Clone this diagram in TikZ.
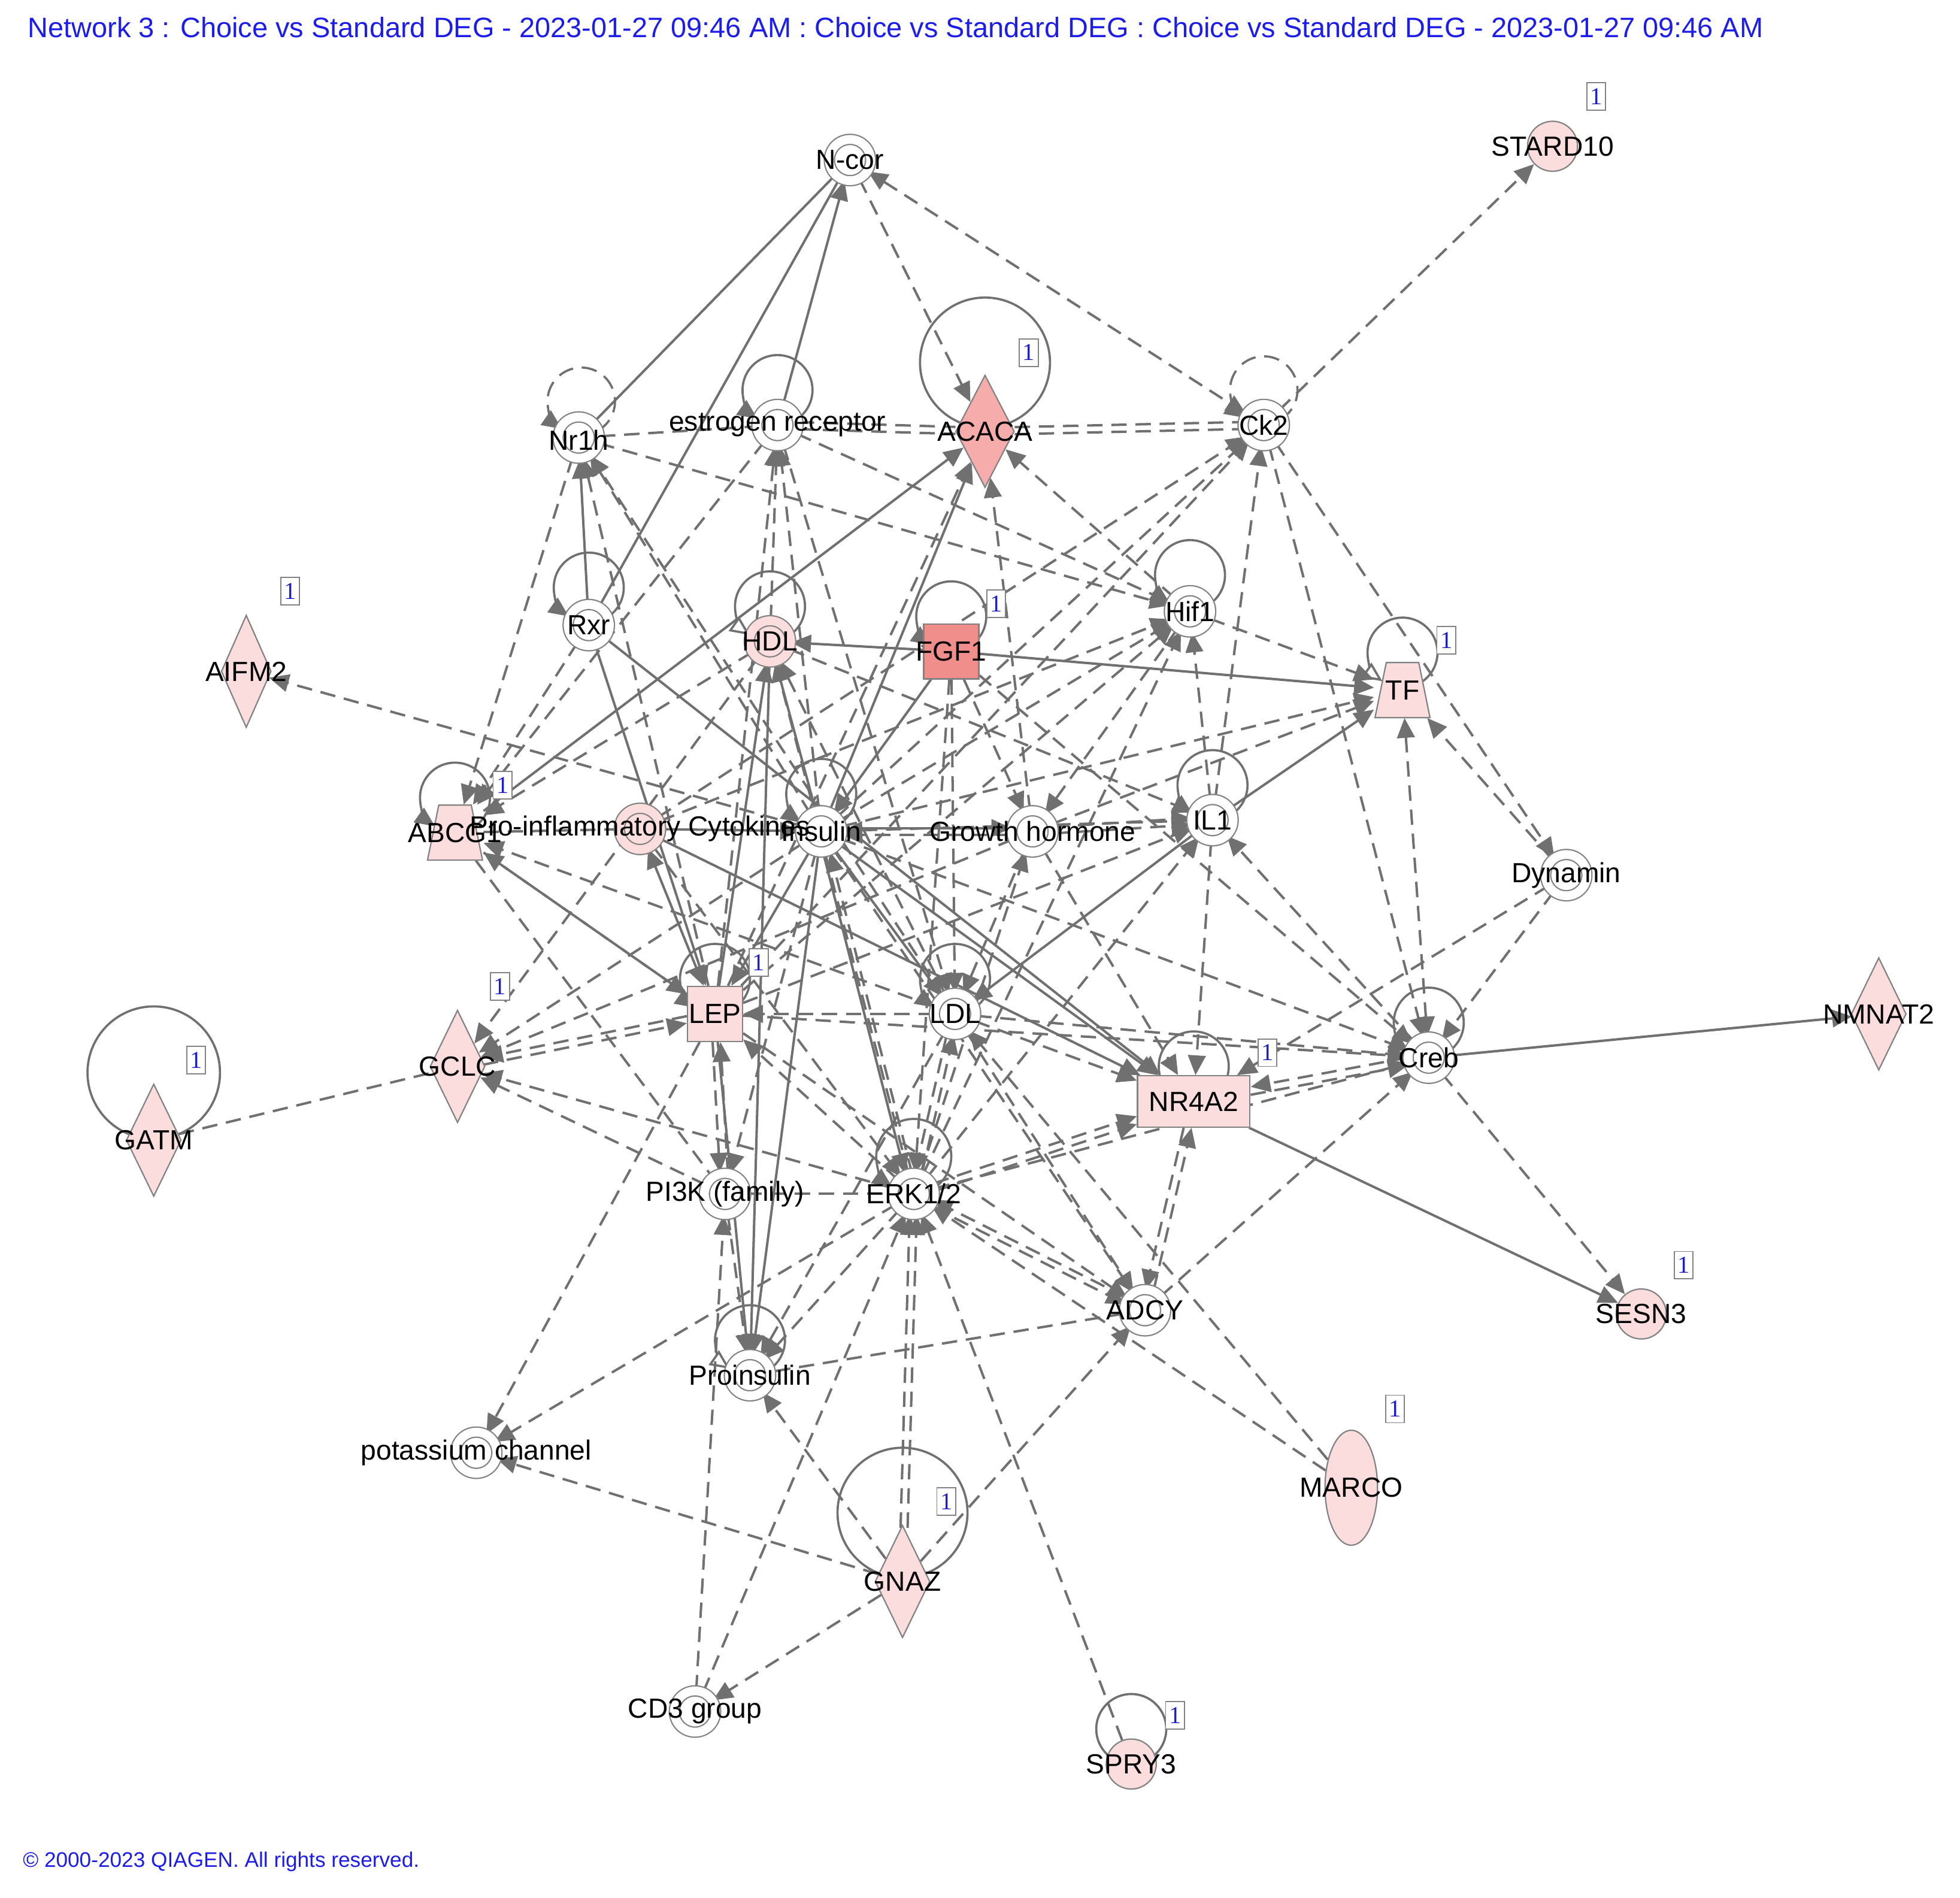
\documentclass[tikz,border=0pt]{standalone}
\usepackage{fontspec}
\setmainfont{Liberation Sans}
\newfontfamily\serifone{Liberation Serif}
\usetikzlibrary{arrows.meta,shapes.geometric,calc}
\definecolor{eg}{RGB}{112,112,112}
\definecolor{ng}{RGB}{130,130,130}
\definecolor{pk}{RGB}{250,221,220}
\definecolor{pkm}{RGB}{246,172,170}
\definecolor{pkd}{RGB}{240,142,140}
\definecolor{ttl}{RGB}{28,28,235}
\pgfdeclarelayer{bg}\pgfdeclarelayer{edges}\pgfsetlayers{bg,edges,main}
\begin{document}
\begin{tikzpicture}[x=0.02cm,y=-0.02cm,font=\fontsize{12.6}{14}\selectfont,
  >={Triangle[length=9pt,width=8pt]},
  base/.style={draw=eg,line width=1.1pt},
  dsh/.style={dash pattern=on 7pt off 4pt},
  ea/.style={base,->},
  eaa/.style={base,<->},
  en/.style={base},
  ed/.style={base,dsh,->},
  edd/.style={base,dsh,<->},
  edn/.style={base,dsh},
  sh/.style={transform canvas={shift={#1}}},
  lp/.style={base,line width=1pt},
  lpo/.style={base,line width=1pt,-{Triangle[open,length=9pt,width=8pt,fill=white]}},
  cn/.style={circle,draw=ng,line width=0.6pt,double=white,double distance=4pt,fill=white,inner sep=0pt,minimum size=0.66cm},
  cnp/.style={circle,draw=ng,line width=0.6pt,double=pk,double distance=4pt,fill=pk,inner sep=0pt,minimum size=0.66cm},
  pc/.style={circle,draw=ng,line width=0.6pt,fill=pk,inner sep=0pt,minimum size=0.8cm},
  dia/.style={diamond,draw=ng,line width=0.6pt,fill=pk,inner sep=0pt,minimum width=0.88cm,minimum height=1.8cm},
  trapbox/.style={rectangle,inner sep=0pt,minimum width=0.9cm,minimum height=0.88cm},
  trapfill/.style={fill=pk,draw=ng,line width=0.6pt},
  sq/.style={rectangle,draw=ng,line width=0.6pt,fill=pk,inner sep=0pt,minimum width=0.88cm,minimum height=0.88cm},
  lbl/.style={inner sep=0pt,text=black},
  badge/.style={draw=ng,line width=0.5pt,fill=white,inner sep=0pt,minimum width=0.3cm,minimum height=0.44cm,font=\serifone\fontsize{11}{12}\selectfont,text={rgb,255:red,30;green,30;blue,200}}]

\begin{pgfonlayer}{bg}
\fill[white] (0,0) rectangle (1568,1518);
\end{pgfonlayer}
\path[use as bounding box] (0,0) rectangle (1568,1518);

% ---------- nodes (shapes) ----------
\node[cn] (ncor) at (680,128) {};
\node[pc] (stard) at (1242,117) {};
\node[cn] (nrh) at (463,350) {};
\node[cn] (er) at (622,340) {};
\node[dia,fill=pkm,minimum width=0.94cm] (acaca) at (788,345) {};
\node[cn] (ck) at (1011,340) {};
\node[cn] (rxr) at (471,500) {};
\node[cnp] (hdl) at (616,513) {};
\node[sq,fill=pkd] (fgf) at (761,521) {};
\node[cn] (hif) at (952,489) {};
\node[trapbox] (tf) at (1122,552) {};
\filldraw[trapfill] ($(tf)+(-22,22)$) -- ($(tf)+(22,22)$) -- ($(tf)+(13,-22)$) -- ($(tf)+(-13,-22)$) -- cycle;
\node[dia,minimum width=0.8cm] (aifm) at (197,537) {};
\node[trapbox] (abcg) at (364,666) {};
\filldraw[trapfill] ($(abcg)+(-22,22)$) -- ($(abcg)+(22,22)$) -- ($(abcg)+(13,-22)$) -- ($(abcg)+(-13,-22)$) -- cycle;
\node[cnp] (proinf) at (512,663) {};
\node[cn] (ins) at (657,665) {};
\node[cn] (gh) at (826,665) {};
\node[cn] (il) at (970,656) {};
\node[cn] (dyn) at (1253,700) {};
\node[sq] (lep) at (572,811) {};
\node[cn] (ldl) at (764,811) {};
\node[dia] (gclc) at (366,853) {};
\node[dia] (gatm) at (123,912) {};
\node[sq,minimum width=1.8cm,minimum height=0.82cm] (nra) at (955,881) {};
\node[cn] (creb) at (1143,846) {};
\node[dia] (nmnat) at (1503,811) {};
\node[cn] (pik) at (580,955) {};
\node[cn] (erk) at (731,955) {};
\node[cn] (adcy) at (916,1048) {};
\node[pc] (sesn) at (1313,1051) {};
\node[cn] (proins) at (600,1100) {};
\node[cn] (kch) at (381,1162) {};
\node[ellipse,draw=ng,line width=0.6pt,fill=pk,inner sep=0pt,minimum width=0.84cm,minimum height=1.84cm] (marco) at (1081,1190) {};
\node[dia] (gnaz) at (722,1265) {};
\node[cn] (cd) at (556,1369) {};
\node[pc] (spry) at (905,1411) {};

% ---------- edges ----------
\begin{pgfonlayer}{edges}
% self loops
\draw[lp,dsh,->] (465,321) ++(60:27) arc[start angle=60,end angle=-235,radius=27];
\draw[lp,->] (622,312) ++(60:28) arc[start angle=60,end angle=-235,radius=28];
\draw[lp] (788,290) circle[radius=52];
\draw[lp,dsh,->] (1011,312) ++(60:27) arc[start angle=60,end angle=-235,radius=27];
\draw[lp,->] (471,470) ++(60:28) arc[start angle=60,end angle=-235,radius=28];
\draw[lpo] (616,485) ++(60:28) arc[start angle=60,end angle=-235,radius=28];
\draw[lp,->] (761,493) ++(60:28) arc[start angle=60,end angle=-235,radius=28];
\draw[lp,->] (952,460) ++(60:28) arc[start angle=60,end angle=-235,radius=28];
\draw[lpo] (1122,522) ++(60:28) arc[start angle=60,end angle=-235,radius=28];
\draw[lp,->] (364,638) ++(60:28) arc[start angle=60,end angle=-235,radius=28];
\draw[lp,->] (657,635) ++(60:28) arc[start angle=60,end angle=-235,radius=28];
\draw[lp,->] (970,628) ++(60:28) arc[start angle=60,end angle=-235,radius=28];
\draw[lp,->] (572,783) ++(60:28) arc[start angle=60,end angle=-235,radius=28];
\draw[lp,->] (764,783) ++(60:28) arc[start angle=60,end angle=-235,radius=28];
\draw[lp,->] (955,853) ++(60:28) arc[start angle=60,end angle=-235,radius=28];
\draw[lp,->] (1143,818) ++(60:28) arc[start angle=60,end angle=-235,radius=28];
\draw[lp,->] (731,925) ++(60:30) arc[start angle=60,end angle=-235,radius=30];
\draw[lpo] (600,1072) ++(60:28) arc[start angle=60,end angle=-235,radius=28];
\draw[lp] (123,858) circle[radius=53];
\draw[lp] (722,1210) circle[radius=52];
\draw[lp] (905,1383) circle[radius=28];

% top area
\draw[en] (nrh) -- (ncor);
\draw[en] (rxr) -- (ncor);
\draw[ea] (er) -- (ncor);
\draw[ed] (ncor) -- (acaca);
\draw[edd] (ncor) -- (ck);
\draw[ed] (ck) -- (stard);
\draw[edn] (nrh) -- (er);
\draw[edn,sh={(0,1.6pt)}] (er) -- (acaca);
\draw[edn,sh={(0,-1.6pt)}] (er) -- (acaca);
\draw[edn,sh={(0,1.6pt)}] (acaca) -- (ck);
\draw[edn,sh={(0,-1.6pt)}] (acaca) -- (ck);
\draw[ea] (rxr) -- (nrh);
\draw[ed] (nrh) -- (abcg);
\draw[ed] (nrh) -- (hif);
\draw[ed] (ins) -- (nrh);
\draw[ed] (ldl) -- (nrh);
\draw[ed] (lep) -- (nrh);
\draw[ed] (hdl) -- (er);
\draw[ed] (ins) -- (er);
\draw[ed] (lep) -- (er);
\draw[ed] (er) -- (hif);
\draw[ed] (er) -- (ldl);
\draw[ed] (er) -- (abcg);
\draw[ea] (ins) -- (acaca);
\draw[ea] (abcg) -- (acaca);
\draw[ed] (lep) -- (acaca);
\draw[ed] (gh) -- (acaca);
\draw[ed] (hif) -- (acaca);
\draw[ed] (ins) -- (ck);
\draw[ed] (lep) -- (ck);
\draw[ed] (il) -- (ck);
\draw[ed] (ck) -- (creb);
\draw[ed] (ck) -- (dyn);
\draw[ed] (proinf) -- (ck);
% right side
\draw[ed] (dyn) -- (tf);
\draw[edd] (tf) -- (creb);
\draw[ed] (dyn) -- (creb);
\draw[ed] (dyn) -- (nra);
\draw[ea] (creb) -- (nmnat);
\draw[ea] (nra) -- (sesn);
\draw[ed] (creb) -- (sesn);
\draw[ed,sh={(0,-1.8pt)}] (nra) -- (creb);
\draw[ed,sh={(0,1.8pt)}] (creb) -- (nra);
\draw[ed] (adcy) -- (creb);
\draw[ed] (creb) -- (il);
\draw[ed] (ins) -- (creb);
\draw[ed] (fgf) -- (creb);
\draw[ed] (ldl) -- (creb);
\draw[ed] (lep) -- (creb);
\draw[ea] (ins) -- (nra);
\draw[ea] (proinf) -- (nra);
\draw[ea] (rxr) -- (nra);
\draw[ed,sh={(0,1.8pt)}] (erk) -- (nra);
\draw[ed,sh={(0,-1.8pt)}] (erk) -- (nra);
\draw[ed] (ldl) -- (nra);
\draw[ed,sh={(1.8pt,0)}] (adcy) -- (nra);
\draw[ed,sh={(-1.8pt,0)}] (nra) -- (adcy);
\draw[ed] (il) -- (nra);
\draw[ed] (gh) -- (nra);
% IL1 / GH / Hif1 / TF
\draw[ea] (il) -- (tf);
\draw[ed] (il) -- (hif);
\draw[ea,sh={(0,1.5pt)}] (ins) -- (gh);
\draw[ed,sh={(0,-1.5pt)}] (gh) -- (ins);
\draw[ed,sh={(0,1.5pt)}] (gh) -- (il);
\draw[ed,sh={(0,-1.5pt)}] (gh) -- (il);
\draw[ed] (il) -- (ins);
\draw[ea] (il) -- (ldl);
\draw[ed] (erk) -- (il);
\draw[ed] (lep) -- (il);
\draw[ed] (hdl) -- (il);
\draw[ed] (fgf) -- (gh);
\draw[ed] (hif) -- (gh);
\draw[ed] (erk) -- (gh);
\draw[ed] (gh) -- (gclc);
\draw[ed] (gh) -- (tf);
\draw[ed] (ins) -- (tf);
\draw[ed] (ins) -- (hif);
\draw[ed] (lep) -- (hif);
\draw[ed] (erk) -- (hif);
\draw[ed] (hif) -- (tf);
\draw[ed] (proinf) -- (hif);
% FGF1 / HDL
\draw[ea] (fgf) -- (hdl);
\draw[ea] (fgf) -- (tf);
\draw[ed] (fgf) -- (erk);
\draw[ea] (fgf) -- (ins);
\draw[ed] (fgf) -- (ldl);
\draw[ed] (hdl) -- (abcg);
\draw[ed] (hdl) -- (gclc);
\draw[ea] (ins) -- (hdl);
\draw[ea] (lep) -- (hdl);
\draw[ed] (ldl) -- (hdl);
\draw[ed] (erk) -- (hdl);
\draw[ea] (hdl) -- (proins);
% LEP
\draw[ed,sh={(-1.8pt,0)}] (lep) -- (pik);
\draw[ed,sh={(1.8pt,0)}] (pik) -- (lep);
\draw[ed,sh={(0,1.6pt)}] (lep) -- (gclc);
\draw[ed,sh={(0,-1.6pt)}] (gclc) -- (lep);
\draw[ed] (abcg) -- (lep);
\draw[ed] (lep) -- (kch);
\draw[eaa] (proinf) -- (lep);
\draw[ea] (rxr) -- (lep);
\draw[ea] (ins) -- (lep);
\draw[ed] (ldl) -- (lep);
\draw[ed] (erk) -- (lep);
\draw[ea] (lep) -- (proins);
\draw[ed] (lep) -- (abcg);
\draw[ed] (lep) -- (adcy);
% LDL
\draw[ed,sh={(-1.6pt,0)}] (ldl) -- (erk);
\draw[ed,sh={(1.6pt,0)}] (erk) -- (ldl);
\draw[ea] (ins) -- (ldl);
\draw[ed] (gh) -- (ldl);
\draw[ed] (ldl) -- (abcg);
\draw[ed] (ldl) -- (adcy);
\draw[ed] (marco) -- (ldl);
\draw[ed] (ldl) -- (proins);
% PI3K / ERK
\draw[edn] (pik) -- (erk);
\draw[ed] (pik) -- (gclc);
\draw[ed] (cd) -- (pik);
\draw[ed] (pik) -- (proins);
\draw[edn] (abcg) -- (pik);
\draw[ed] (ins) -- (pik);
\draw[ed] (erk) -- (kch);
\draw[ed] (erk) -- (proins);
\draw[ed,sh={(-1.6pt,0)}] (gnaz) -- (erk);
\draw[ed,sh={(1.6pt,0)}] (gnaz) -- (erk);
\draw[ed] (cd) -- (erk);
\draw[ed] (marco) -- (erk);
\draw[ed] (spry) -- (erk);
\draw[ed,sh={(0,1.6pt)}] (adcy) -- (erk);
\draw[ed,sh={(0,-1.6pt)}] (erk) -- (adcy);
\draw[ed] (erk) -- (creb);
\draw[ea,sh={(-1.6pt,0)}] (ins) -- (erk);
\draw[ed,sh={(1.6pt,0)}] (erk) -- (ins);
\draw[ed] (erk) -- (gclc);
\draw[ed] (proinf) -- (erk);
% lower part
\draw[ed] (gnaz) -- (adcy);
\draw[edn] (adcy) -- (proins);
\draw[ed] (ins) -- (adcy);
\draw[ed] (gnaz) -- (kch);
\draw[ed] (gnaz) -- (proins);
\draw[ed] (gnaz) -- (cd);
\draw[ea] (ins) -- (proins);
% left part
\draw[ed] (ins) -- (aifm);
\draw[ea] (proinf) -- (ins);
\draw[edn] (abcg) -- (proinf);
\draw[edn] (gatm) -- (gclc);
\draw[ed] (ins) -- (gclc);
\draw[ed] (rxr) -- (abcg);
\end{pgfonlayer}

% ---------- labels ----------
\node[lbl] (ncor-l) at (680,128) {N-cor};
\node[lbl] (stard-l) at (1242,117) {STARD10};
\node[lbl] (nrh-l) at (463,352) {Nr1h};
\node[lbl] (er-l) at (622,340) {estrogen receptor};
\node[lbl] (acaca-l) at (788,345) {ACACA};
\node[lbl] (ck-l) at (1011,340) {Ck2};
\node[lbl] (rxr-l) at (471,500) {Rxr};
\node[lbl] (hdl-l) at (616,513) {HDL};
\node[lbl] (fgf-l) at (761,521) {FGF1};
\node[lbl] (hif-l) at (952,489) {Hif1};
\node[lbl] (tf-l) at (1122,552) {TF};
\node[lbl] (aifm-l) at (197,537) {AIFM2};
\node[lbl] (abcg-l) at (364,666) {ABCG1};
\node[lbl] (proinf-l) at (512,663) {Pro-inflammatory Cytokines};
\node[lbl] (ins-l) at (657,665) {Insulin};
\node[lbl] (gh-l) at (826,665) {Growth hormone};
\node[lbl] (il-l) at (970,656) {IL1};
\node[lbl] (dyn-l) at (1253,700) {Dynamin};
\node[lbl] (lep-l) at (572,811) {LEP};
\node[lbl] (ldl-l) at (764,811) {LDL};
\node[lbl] (gclc-l) at (366,853) {GCLC};
\node[lbl] (gatm-l) at (123,912) {GATM};
\node[lbl] (nra-l) at (955,881) {NR4A2};
\node[lbl] (creb-l) at (1143,846) {Creb};
\node[lbl] (nmnat-l) at (1503,811) {NMNAT2};
\node[lbl] (pik-l) at (580,955) {PI3K (family)};
\node[lbl] (erk-l) at (731,955) {ERK1/2};
\node[lbl] (adcy-l) at (916,1048) {ADCY};
\node[lbl] (sesn-l) at (1313,1051) {SESN3};
\node[lbl] (proins-l) at (600,1100) {Proinsulin};
\node[lbl] (kch-l) at (381,1162) {potassium channel};
\node[lbl] (marco-l) at (1081,1190) {MARCO};
\node[lbl] (gnaz-l) at (722,1265) {GNAZ};
\node[lbl] (cd-l) at (556,1369) {CD3 group};
\node[lbl] (spry-l) at (905,1411) {SPRY3};

% ---------- badges ----------
\node[badge] (b1) at (1277,77) {1};
\node[badge] (b2) at (823,282) {1};
\node[badge] (b3) at (232,473) {1};
\node[badge] (b4) at (797,483) {1};
\node[badge] (b5) at (1157,512) {1};
\node[badge] (b6) at (402,628) {1};
\node[badge] (b7) at (607,770) {1};
\node[badge] (b8) at (400,789) {1};
\node[badge] (b9) at (157,848) {1};
\node[badge] (b10) at (1014,842) {1};
\node[badge] (b11) at (1347,1012) {1};
\node[badge] (b12) at (1116,1127) {1};
\node[badge] (b13) at (757,1201) {1};
\node[badge] (b14) at (940,1372) {1};

% ---------- title and footer ----------
\node[anchor=west,inner sep=0pt,text=ttl,font=\fontsize{12.8}{14}\selectfont] (title) at (22,22) {Network 3 : Choice vs Standard DEG - 2023-01-27 09:46 AM : Choice vs Standard DEG : Choice vs Standard DEG - 2023-01-27 09:46 AM};
\node[anchor=west,inner sep=0pt,text=ttl,font=\fontsize{9.6}{11}\selectfont] (footer) at (18,1489) {© 2000-2023 QIAGEN. All rights reserved.};
\end{tikzpicture}
\end{document}
